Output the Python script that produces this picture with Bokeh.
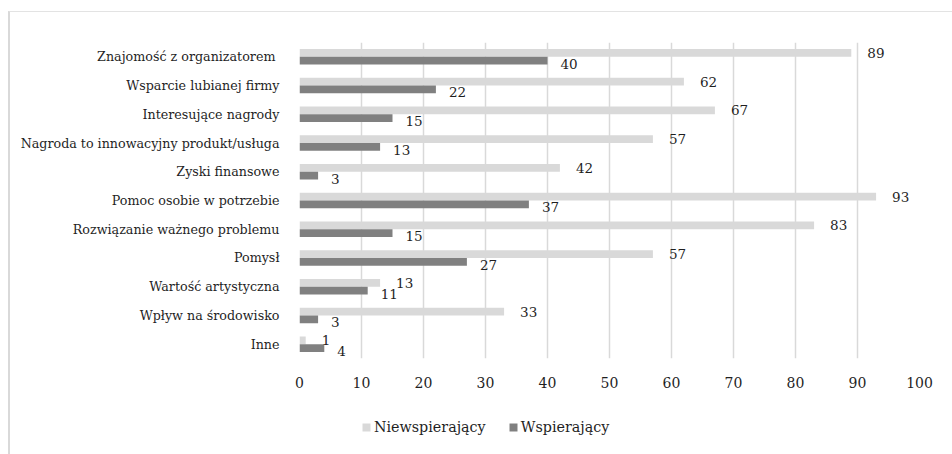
from bokeh.plotting import figure
from bokeh.models import (ColumnDataSource, FactorRange, Range1d, Legend, LegendItem,
                          FixedTicker)
from bokeh.layouts import column
from bokeh.transform import dodge
from bokeh.core.properties import value
from bokeh.embed import file_html
from bokeh.resources import INLINE

# Motivations, listed top to bottom
categories = [
    "Znajomość z organizatorem ",
    "Wsparcie lubianej firmy",
    "Interesujące nagrody",
    "Nagroda to innowacyjny produkt/usługa",
    "Zyski finansowe",
    "Pomoc osobie w potrzebie",
    "Rozwiązanie ważnego problemu",
    "Pomysł",
    "Wartość artystyczna",
    "Wpływ na środowisko",
    "Inne",
]
niewspierajacy = [89, 62, 67, 57, 42, 93, 83, 57, 13, 33, 1]
wspierajacy = [40, 22, 15, 13, 3, 37, 15, 27, 11, 3, 4]
series_names = ["Niewspierający", "Wspierający"]
x_ticks = [0, 10, 20, 30, 40, 50, 60, 70, 80, 90, 100]

FONT = "DejaVu Serif"
TEXT = "#1f1f1f"
LIGHT = "#d9d9d9"
DARK = "#808080"

src = ColumnDataSource(dict(
    cat=categories,
    nie=niewspierajacy,
    wsp=wspierajacy,
    nie_lbl=[str(v) for v in niewspierajacy],
    wsp_lbl=[str(v) for v in wspierajacy],
))

# ---- main bar chart ----
p = figure(
    width=943, height=386,
    y_range=FactorRange(*reversed(categories)),
    x_range=Range1d(0, 100),
    output_backend="svg", toolbar_location=None,
    min_border_left=289, min_border_right=34,
    min_border_top=30, min_border_bottom=40,
)
p.outline_line_color = None
p.background_fill_color = "white"
p.border_fill_color = "white"

bar_h = 0.27
off = 0.135

p.hbar(y=dodge("cat", off, range=p.y_range), right="nie", left=0,
       height=bar_h, source=src, fill_color=LIGHT, line_color=None)
p.hbar(y=dodge("cat", -off, range=p.y_range), right="wsp", left=0,
       height=bar_h, source=src, fill_color=DARK, line_color=None)

# value labels just past each bar end
p.text(x="nie", y=dodge("cat", off, range=p.y_range), text="nie_lbl", source=src,
       x_offset=16, y_offset=0, text_align="left", text_baseline="middle",
       text_font=value(FONT), text_font_size="13.5px", text_color=TEXT)
p.text(x="wsp", y=dodge("cat", -off, range=p.y_range), text="wsp_lbl", source=src,
       x_offset=13, y_offset=3, text_align="left", text_baseline="middle",
       text_font=value(FONT), text_font_size="13.5px", text_color=TEXT)

p.xaxis.ticker = FixedTicker(ticks=x_ticks)
p.xaxis.axis_line_color = None
p.xaxis.major_tick_line_color = None
p.xaxis.minor_tick_line_color = None
p.xaxis.major_label_standoff = 12
p.xaxis.major_label_text_font = FONT
p.xaxis.major_label_text_font_size = "14px"
p.xaxis.major_label_text_color = TEXT

p.yaxis.axis_line_color = None
p.yaxis.major_tick_line_color = None
p.yaxis.minor_tick_line_color = None
p.yaxis.major_label_standoff = 14
p.yaxis.major_label_text_font = FONT
p.yaxis.major_label_text_font_size = "12.7px"
p.yaxis.major_label_text_color = TEXT

p.xgrid.grid_line_color = LIGHT
p.xgrid.grid_line_width = 1.5
p.ygrid.grid_line_color = None

# ---- legend strip underneath (frames are aligned with the chart) ----
lf = figure(
    width=943, height=56,
    x_range=Range1d(0, 1), y_range=Range1d(0, 1),
    output_backend="svg", toolbar_location=None,
    min_border=0,
)
lf.axis.visible = False
lf.grid.grid_line_color = None
lf.outline_line_color = None
lf.border_fill_color = "white"

# proxies lying outside the strip's ranges; they only supply the swatches
proxy = ColumnDataSource(dict(y=[-5], left=[0], right=[0.5]))
g_nie = lf.hbar(y="y", left="left", right="right", height=0.1, source=proxy,
                fill_color=LIGHT, line_color=None)
g_wsp = lf.hbar(y="y", left="left", right="right", height=0.1, source=proxy,
                fill_color=DARK, line_color=None)

legend = Legend(
    items=[LegendItem(label=series_names[0], renderers=[g_nie]),
           LegendItem(label=series_names[1], renderers=[g_wsp])],
    location=(62, 17), orientation="horizontal",
    glyph_width=10, glyph_height=10, label_standoff=3, spacing=22,
    padding=0, margin=0, border_line_color=None, background_fill_alpha=0,
    label_text_font=FONT, label_text_font_size="14.3px", label_text_color=TEXT,
    label_height=20,
)
lf.add_layout(legend)

layout = column(p, lf, spacing=0)
layout.styles = {
    "margin-left": "8px",
    "margin-top": "11px",
    "border-left": "2px solid #d9d9d9",
    "border-top": "1px solid #e3e3e3",
}

open("out.html", "w").write(file_html(layout, INLINE))
